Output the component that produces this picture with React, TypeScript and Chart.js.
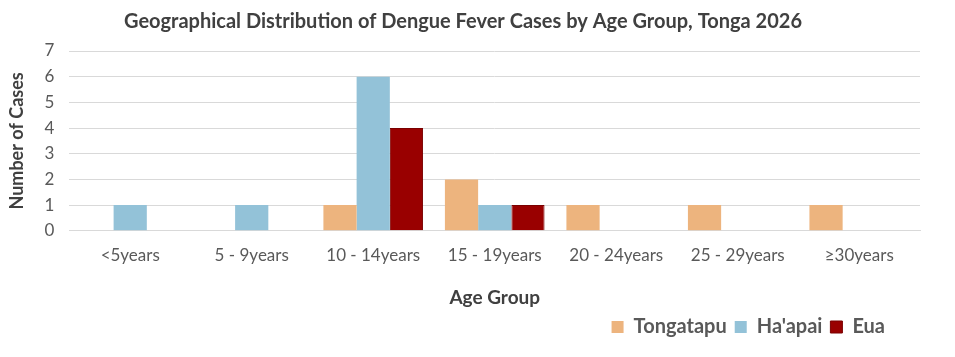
import React, { useEffect, useRef } from "react";
import { Chart, registerables } from "chart.js";

Chart.register(...registerables);

const categories = ["<5years", "5 - 9years", "10 - 14years", "15 - 19years", "20 - 24years", "25 - 29years", "≥30years"];
const tongatapu = [0, 0, 1, 2, 1, 1, 1];
const haapai = [1, 1, 6, 1, 0, 0, 0];
const eua = [0, 0, 4, 1, 0, 0, 0];
const yTicks = [0, 1, 2, 3, 4, 5, 6, 7];

const FONT = "Lato, 'Open Sans', sans-serif";
const TEXT = "#595959";

const legendShift = {
  id: "legendShift",
  afterLayout(chart: any) {
    if (chart.legend) {
      chart.legend.right -= 27;
    }
  },
};

export default function App() {
  const ref = useRef<HTMLCanvasElement | null>(null);
  useEffect(() => {
    if (!ref.current) return;
    const chart = new Chart(ref.current, {
      type: "bar",
      data: {
        labels: categories,
        datasets: [
          { label: "Tongatapu", data: tongatapu, backgroundColor: "#EDB47E", borderWidth: 0 },
          { label: "Ha'apai", data: haapai, backgroundColor: "#93C2D8", borderWidth: 0 },
          { label: "Eua", data: eua, backgroundColor: "#990000", borderColor: "#7A0000", borderWidth: 1 },
        ],
      },
      plugins: [legendShift],
      options: {
        animation: false,
        responsive: false,
        maintainAspectRatio: false,
        layout: { padding: { left: 6, right: 35, top: 0, bottom: 10 } },
        datasets: { bar: { categoryPercentage: 0.82, barPercentage: 1.0 } },
        plugins: {
          title: {
            display: true,
            text: "Geographical Distribution of Dengue Fever Cases by Age Group, Tonga 2026",
            color: "#404040",
            font: { family: FONT, size: 20, weight: "bold" },
            padding: { top: 10, bottom: 17 },
          },
          legend: {
            position: "bottom",
            align: "end",
            fullSize: false,
            labels: {
              color: TEXT,
              font: { family: FONT, size: 20, weight: "bold" },
              boxWidth: 12,
              boxHeight: 12,
              padding: 8,
            },
          },
          tooltip: { enabled: false },
        },
        scales: {
          x: {
            grid: { display: false, drawTicks: false },
            border: { display: true, color: "#d9d9d9" },
            ticks: { color: TEXT, font: { family: FONT, size: 17 }, padding: 15, maxRotation: 0, autoSkip: false },
            title: {
              display: true,
              text: "Age Group",
              color: "#404040",
              font: { family: FONT, size: 19, weight: "bold" },
              padding: { top: 5, bottom: 0 },
            },
          },
          y: {
            min: 0,
            max: 7,
            afterBuildTicks: (axis: any) => {
              axis.ticks = yTicks.map((v) => ({ value: v }));
            },
            grid: { color: "#d9d9d9", drawTicks: false },
            border: { display: false },
            ticks: { color: TEXT, font: { family: FONT, size: 17 }, padding: 15, autoSkip: false, stepSize: 1 },
            title: {
              display: true,
              text: "Number of Cases",
              color: "#404040",
              font: { family: FONT, size: 18, weight: "bold" },
              padding: { top: 0, bottom: 2 },
            },
          },
        },
      },
    });
    return () => chart.destroy();
  }, []);
  return (
    <div style={{ position: "fixed", left: 0, top: 0, width: 955, height: 357, background: "#fff" }}>
      <canvas ref={ref} width={955} height={357} style={{ width: 955, height: 357, display: "block" }} />
    </div>
  );
}
